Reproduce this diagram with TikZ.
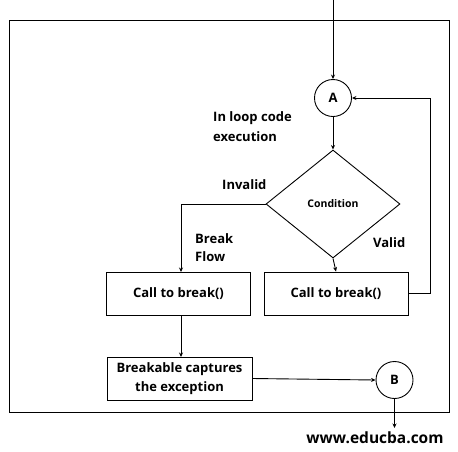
\documentclass[tikz,border=0pt]{standalone}
\usepackage{fontspec}
\setmainfont{Open Sans}
\usetikzlibrary{arrows.meta,shapes.geometric}
\begin{document}
\begin{tikzpicture}[x=1pt,y=-1pt,
  every node/.style={font=\bfseries\fontsize{13}{19}\selectfont},
  line/.style={line width=0.9pt},
  arr/.style={line width=0.9pt,-{Stealth[length=4.5pt,width=4pt]}},
  boxnode/.style={draw,line width=0.9pt,minimum width=144pt,minimum height=43pt,inner sep=0pt,align=center},
  circnode/.style={draw,circle,line width=0.9pt,minimum size=37pt,inner sep=0pt},
  lbl/.style={align=left,inner sep=0pt}]
\useasboundingbox (0,0) rectangle (458,451);
\draw[line] (9.5,20) rectangle (449,412);
\coordinate (top) at (333,0);
\node[circnode] (A) at (333,98) {A};
\node[draw,diamond,line width=0.9pt,minimum width=134pt,minimum height=108pt,inner sep=0pt,aspect=1.24,font=\bfseries\fontsize{10.5}{12}\selectfont] (C) at (333,204) {Condition};
\node[boxnode] (L) at (178.5,293.5) {Call to break()};
\node[boxnode] (R) at (336,293.5) {Call to break()};
\node[boxnode,minimum width=145pt] (K) at (179.5,378.5) {Breakable captures\\the exception};
\node[circnode] (B) at (394.5,380) {B};
\coordinate (out) at (394.5,428);
\draw[arr] (top) -- (A.north);
\draw[arr] (A.south) -- (C.north);
\draw[arr] (C.west) -| (181,272);
\draw[arr] (C.south) -- (R.north);
\draw[arr] (R.east) -- (430,293.5) |- (A.east);
\draw[arr] (181,315) -- (181,357);
\draw[arr] (K.east) -- (B.west);
\draw[arr] (B.south) -- (out);
\node[lbl,anchor=west] (t1) at (213,118) {In loop code};
\node[lbl,anchor=west] (t1b) at (213,137) {execution};
\node[lbl,anchor=west] (t2) at (222,185) {Invalid};
\node[lbl,anchor=west] (t3) at (195,239) {Break};
\node[lbl,anchor=west] (t3b) at (195,257) {Flow};
\node[lbl,anchor=west] (t4) at (373,243) {Valid};
\node[lbl,font=\bfseries\fontsize{15.5}{18}\selectfont] (w) at (375,438) {www.educba.com};
\end{tikzpicture}
\end{document}
